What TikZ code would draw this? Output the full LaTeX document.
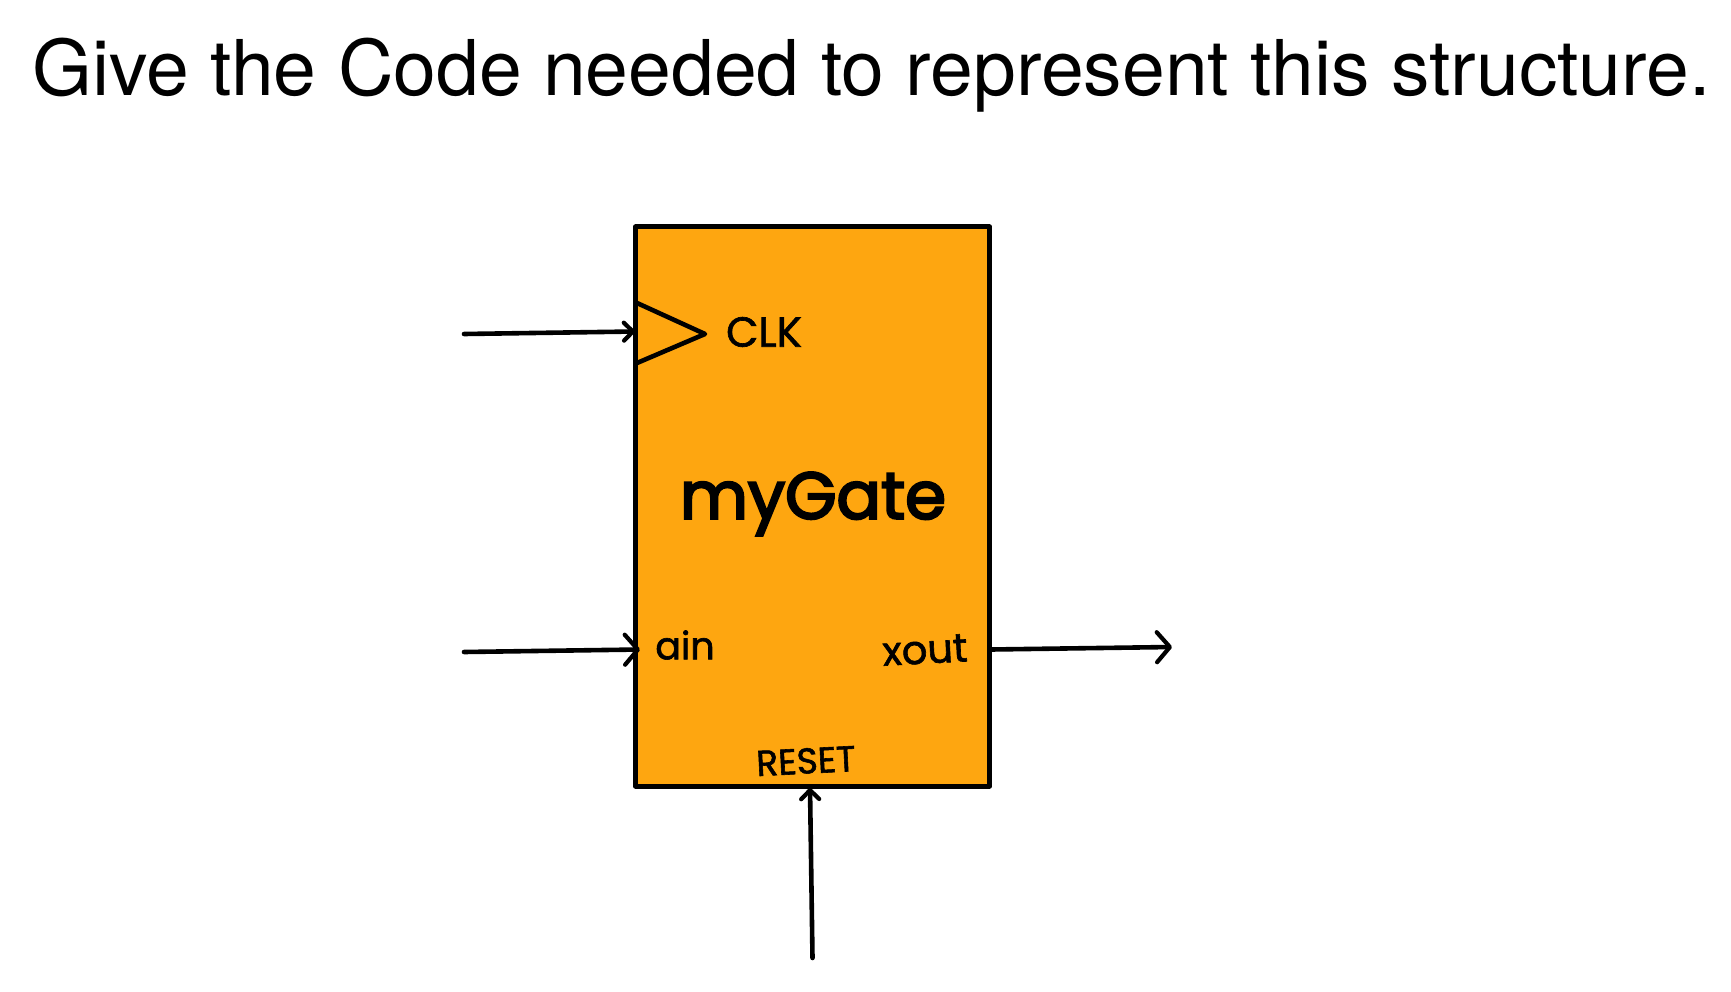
\documentclass[tikz,border=0pt]{standalone}
\usepackage{fontspec}
\usetikzlibrary{arrows.meta}
\setmainfont{TeX Gyre Heros}
\newfontfamily\handfont[FakeBold=1.6]{Poppins}
\newfontfamily\handbig[FakeBold=3.5]{Poppins}
\definecolor{gateorange}{RGB}{254,166,16}
\tikzset{
  x=1pt,y=-1pt,
  gatebox/.style={draw=black,fill=gateorange,line width=5pt,line join=round,minimum width=354pt,minimum height=559pt,inner sep=0pt,outer sep=0pt},
  wire/.style={draw=black,line width=4.6pt,line cap=round,-{Straight Barb[length=9pt,width=18pt,line width=4.2pt,round]}},
  bigwire/.style={wire,-{Straight Barb[length=13pt,width=30pt,line width=4.2pt,round]}},
  hand/.style={inner sep=0pt,outer sep=0pt,text=black},
}
\begin{document}
\begin{tikzpicture}
\useasboundingbox (0,0) rectangle (1731,992);
\fill[white] (0,0) rectangle (1731,992);
\node[anchor=base west,inner sep=0pt,font=\fontsize{76.9}{84}\selectfont] (title) at (32,96) {Give the Code needed to represent this structure.};
\node[gatebox] (gate) at (812.5,506.5) {};
\coordinate (clktop) at (637,303);
\coordinate (clktip) at (705,334);
\coordinate (clkbot) at (637,363);
\draw[line width=4.6pt,line join=round,line cap=round] (clktop) -- (clktip) -- (clkbot);
\coordinate (clkin) at (464,334);
\coordinate (clkend) at (635,331.5);
\coordinate (ainin) at (464,652);
\coordinate (ainend) at (640,649.5);
\coordinate (xstart) at (991,649.5);
\coordinate (xend) at (1172,647);
\coordinate (rin) at (812.5,958);
\coordinate (rend) at (810,788);
\draw[wire] (clkin) -- (clkend);
\draw[bigwire] (ainin) -- (ainend);
\draw[bigwire] (xstart) -- (xend);
\draw[wire] (rin) -- (rend);
\node[hand,font=\handfont\fontsize{42}{44}\selectfont] (clk) at (764,332) {CLK};
\node[hand,font=\handbig\fontsize{66}{70}\selectfont] (name) at (813,504) {myGate};
\node[hand,font=\handfont\fontsize{38}{40}\selectfont] (ain) at (685,645) {ain};
\node[hand,font=\handfont\fontsize{40}{42}\selectfont,rotate=3] (xout) at (925,650) {xout};
\node[hand,font=\handfont\fontsize{36}{38}\selectfont,rotate=3] (reset) at (806,761) {RESET};
\end{tikzpicture}
\end{document}
